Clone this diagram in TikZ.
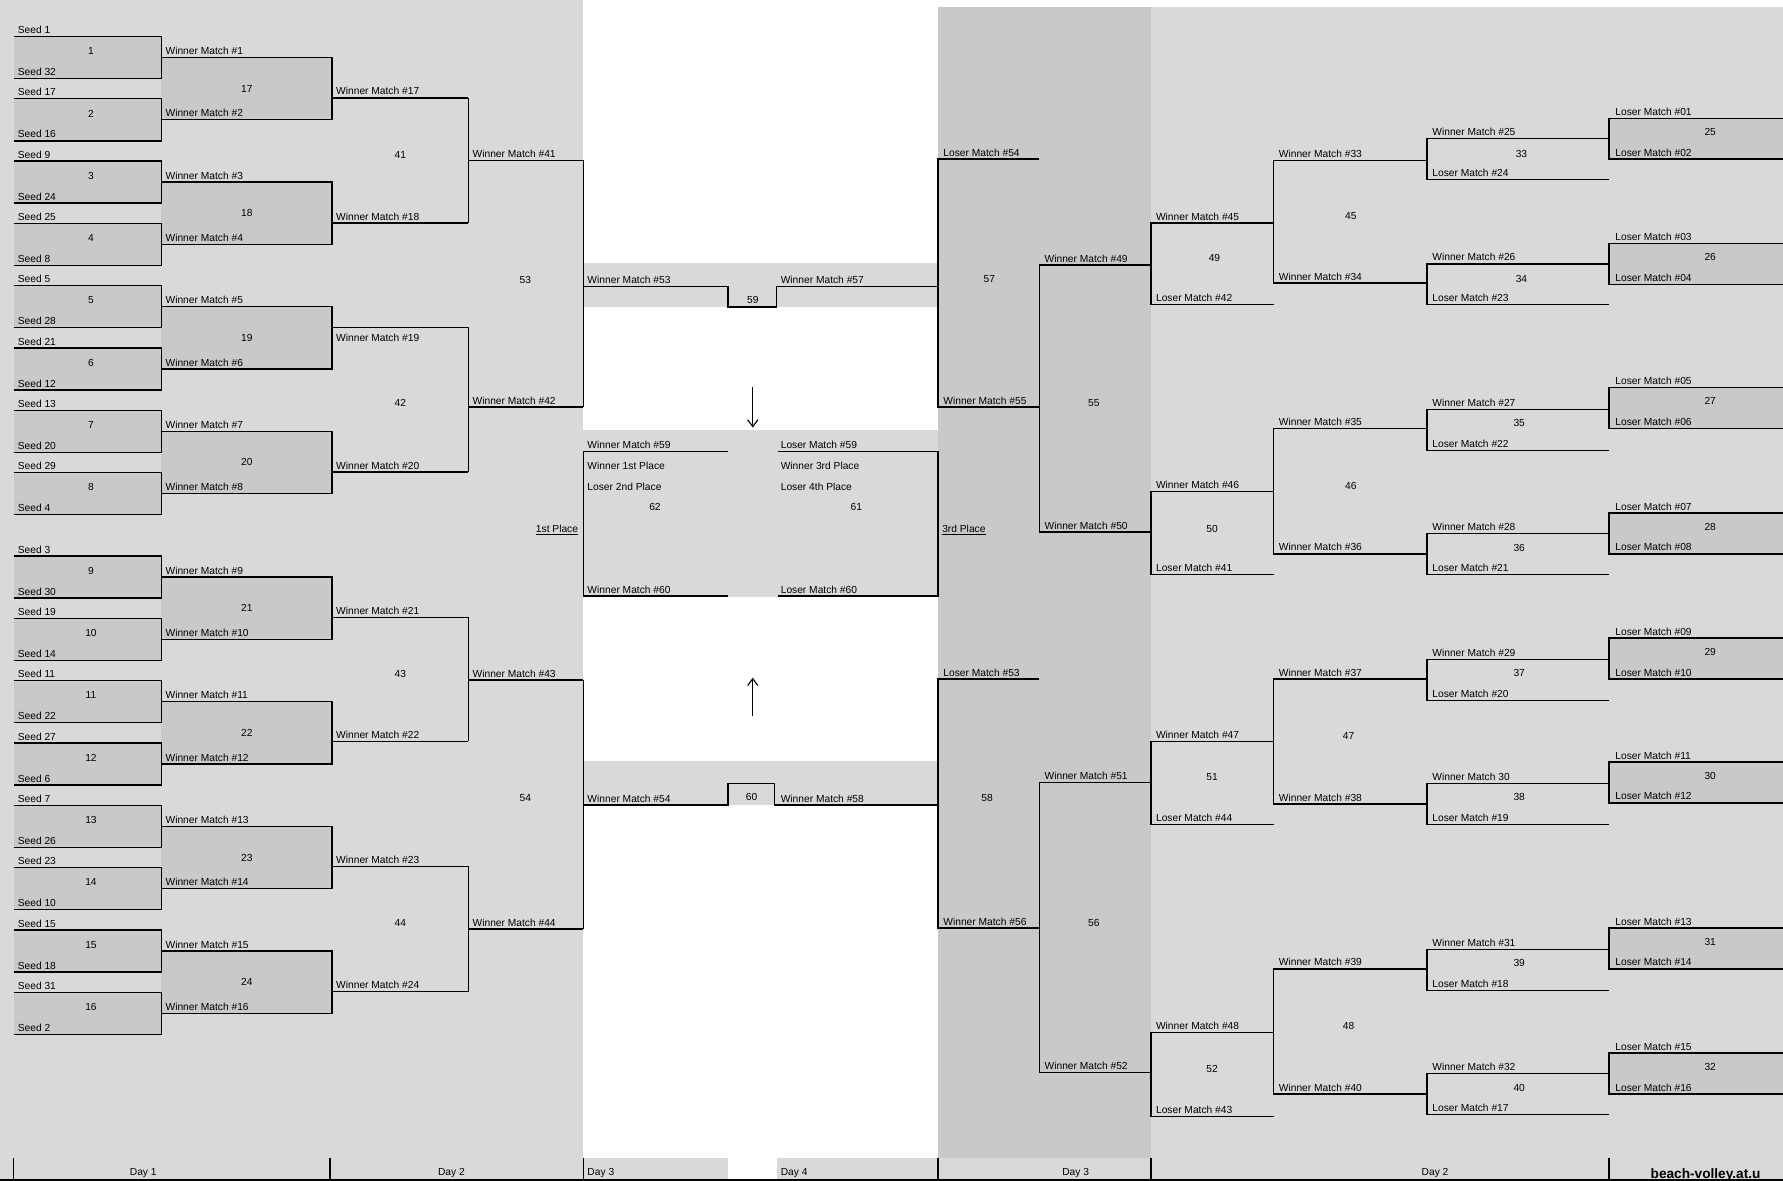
\documentclass[tikz,border=0pt]{standalone}
\usepackage{fontspec}
\setmainfont{Liberation Sans}
\usetikzlibrary{arrows.meta}
\tikzset{
  lbl/.style={font=\fontsize{9}{10}\selectfont,anchor=base west,inner sep=0pt},
  num/.style={font=\fontsize{9}{10}\selectfont,inner sep=0pt},
  daylbl/.style={font=\fontsize{9}{10}\selectfont,anchor=base,inner sep=0pt},
  bgfill/.style={fill=gray!30},
  boxfill/.style={fill=gray!42},
}
\begin{document}
\begin{tikzpicture}[x=1pt,y=-1pt,line width=1.3pt]
    \useasboundingbox (0,0) rectangle (1568,1038);
    % shading
    \fill[bgfill] (0,0) rectangle (513,1038);
    \fill[bgfill] (825,6) rectangle (1568,1038);
    \fill[boxfill] (825,6) rectangle (1012,1018);
    \fill[bgfill] (513,231) rectangle (825,270);
    \fill[bgfill] (513,378) rectangle (825,525);
    \fill[bgfill] (513,669) rectangle (825,708);
    \fill[bgfill] (513,1018) rectangle (640,1038);
    \fill[bgfill] (683,1018) rectangle (825,1038);
    \foreach \i in {1,...,16}{
        \pgfmathsetmacro\t{\i<9 ? 32+54.8*(\i-1) : 489+54.8*(\i-9)}
        \fill[boxfill] (12,\t) rectangle (142,\t+37);
    }
    \foreach \ya/\yb in {50.5/105.3,160.1/214.9,269.7/324.5,379.3/434.1,507.5/562.3,617.1/671.9,726.7/781.5,836.3/891.1}
        \fill[boxfill] (142,\ya) rectangle (292,\yb);
    \foreach \y in {104,214,341,451,561,670,816,926}
        \fill[boxfill] (1415,\y) rectangle (1568,\y+36);

    % day 1
    \foreach \i/\sa/\sb in {1/1/32,2/17/16,3/9/24,4/25/8,5/5/28,6/21/12,7/13/20,8/29/4,9/3/30,10/19/14,11/11/22,12/27/6,13/7/26,14/23/10,15/15/18,16/31/2}{
        \pgfmathsetmacro\t{\i<9 ? 32+54.8*(\i-1) : 489+54.8*(\i-9)}
        \draw (12,\t) -- (142,\t) -- (142,\t+37) -- (12,\t+37);
        \node[num] (m\i) at (80,\t+13) {\i};
        \node[lbl] (sa\i) at (15,\t-2.5) {Seed \sa};
        \node[lbl] (sb\i) at (15,\t+34.5) {Seed \sb};
        \node[lbl] (w\i) at (145,\t+16) {Winner Match \#\i};
    }
    % day 2
    \foreach \m/\ya/\yb/\yo/\lo in {17/50.5/105.3/86/-2.5,18/160.1/214.9/196/-2.5,19/269.7/324.5/288/12,20/379.3/434.1/415/-2.5,21/507.5/562.3/543/-2.5,22/617.1/671.9/652/-2.5,23/726.7/781.5/762/-2.5,24/836.3/891.1/872/-2.5}{
        \draw (142,\ya) -- (292,\ya) -- (292,\yb) -- (142,\yb);
        \draw (292,\yo) -- (412,\yo);
        \node[num] (m\m) at (217,{(\ya+\yb)/2}) {\m};
        \node[lbl] (w\m) at (295,\yo+\lo) {Winner Match \#\m};
    }
    \foreach \m/\ya/\yb/\yo/\ny in {41/86/196/141/136,42/288/415/358/354,43/543/652/598/593,44/762/872/817/812}{
        \draw (412,\ya) -- (412,\yb);
        \draw (412,\yo) -- (513,\yo);
        \node[num] (m\m) at (352,\ny) {\m};
        \node[lbl] (w\m) at (415,\yo-2.5) {Winner Match \#\m};
    }
    \foreach \m/\ya/\yb/\ny in {53/141/358/246,54/598/817/702}{
        \draw (513,\ya) -- (513,\yb);
        \node[num] (m\m) at (462,\ny) {\m};
    }
    \node[lbl,anchor=base east] (first) at (509,468) {\underline{1st Place}};

    % days 3 and 4
    \draw (513,252) -- (640,252) -- (640,270) -- (683,270) -- (683,252) -- (825,252);
    \node[lbl] (w53) at (516,249.5) {Winner Match \#53};
    \node[lbl] (w57) at (686,249.5) {Winner Match \#57};
    \node[num] (m59) at (662,264) {59};
    \draw (513,708) -- (640,708) -- (640,689) -- (681,689) -- (681,708) -- (825,708);
    \node[lbl] (w54) at (516,705.5) {Winner Match \#54};
    \node[lbl] (w58) at (686,705.5) {Winner Match \#58};
    \node[num] (m60) at (661,701) {60};
    \coordinate (downa) at (662,340);
    \coordinate (downb) at (662,376);
    \coordinate (upa) at (662,630);
    \coordinate (upb) at (662,596);
    \draw[-{Straight Barb[length=6pt,width=9pt]},line width=1pt] (downa) -- (downb);
    \draw[-{Straight Barb[length=6pt,width=9pt]},line width=1pt] (upa) -- (upb);
    \draw (640,397) -- (513,397) -- (513,524) -- (640,524);
    \draw (684,397) -- (825,397) -- (825,524) -- (684,524);
    \node[lbl] (w59) at (516,394.5) {Winner Match \#59};
    \node[lbl] (l59) at (686,394.5) {Loser Match \#59};
    \node[lbl] (p1) at (516,413) {Winner 1st Place};
    \node[lbl] (p2) at (516,431) {Loser 2nd Place};
    \node[lbl] (p3) at (686,413) {Winner 3rd Place};
    \node[lbl] (p4) at (686,431) {Loser 4th Place};
    \node[num] (m62) at (576,446) {62};
    \node[num] (m61) at (753,446) {61};
    \node[lbl] (w60) at (516,521.5) {Winner Match \#60};
    \node[lbl] (l60) at (686,521.5) {Loser Match \#60};
    \node[lbl] (third) at (828,468) {\underline{3rd Place}};

    % losers side
    \foreach \x/\xe/\ya/\yb/\n/\nx/\ny/\la/\lb in {
        825/914/140/358/57/870/245/Loser Match \#54/Winner Match \#55,
        825/914/597/816/58/868/702/Loser Match \#53/Winner Match \#56,
        914/1012/233/468/55/962/354/Winner Match \#49/Winner Match \#50,
        914/1012/688/943/56/962/812/Winner Match \#51/Winner Match \#52,
        1012/1120/196/268/49/1068/227/Winner Match \#45/Loser Match \#42,
        1012/1120/432/505/50/1066/465/Winner Match \#46/Loser Match \#41,
        1012/1120/652/725/51/1066/683/Winner Match \#47/Loser Match \#44,
        1012/1120/908/982/52/1066/940/Winner Match \#48/Loser Match \#43,
        1120/1255/141/249/45/1188/190/Winner Match \#33/Winner Match \#34,
        1120/1255/377/487/46/1188/427/Winner Match \#35/Winner Match \#36,
        1120/1255/597/707/47/1186/647/Winner Match \#37/Winner Match \#38,
        1120/1255/852/962/48/1186/902/Winner Match \#39/Winner Match \#40,
        1255/1415/122/158/33/1338/135/Winner Match \#25/Loser Match \#24,
        1255/1415/232/268/34/1338/245/Winner Match \#26/Loser Match \#23,
        1255/1415/360/396/35/1336/372/Winner Match \#27/Loser Match \#22,
        1255/1415/469/505/36/1336/482/Winner Match \#28/Loser Match \#21,
        1255/1415/580/616/37/1336/592/Winner Match \#29/Loser Match \#20,
        1255/1415/689/725/38/1336/701/Winner Match 30/Loser Match \#19,
        1255/1415/835/871/39/1336/847/Winner Match \#31/Loser Match \#18,
        1255/1415/944/980/40/1336/957/Winner Match \#32/Loser Match \#17}{
        \draw (\xe,\ya) -- (\x,\ya) -- (\x,\yb) -- (\xe,\yb);
        \node[num] (m\n) at (\nx,\ny) {\n};
        \node[lbl] (t\n) at (\x+4,\ya-2.5) {\la};
        \node[lbl] (b\n) at (\x+4,\yb-2.5) {\lb};
    }
    \foreach \n/\y/\a/\b in {25/104/01/02,26/214/03/04,27/341/05/06,28/451/07/08,29/561/09/10,30/670/11/12,31/816/13/14,32/926/15/16}{
        \draw (1568,\y) -- (1415,\y) -- (1415,\y+36) -- (1568,\y+36);
        \node[num] (m\n) at (1504,\y+12) {\n};
        \node[lbl] (t\n) at (1420,\y-2.5) {Loser Match \#\a};
        \node[lbl] (b\n) at (1420,\y+33.5) {Loser Match \#\b};
    }

    % day strip
    \draw (0,1037.5) -- (1568,1037.5);
    \foreach \x in {12,290,513,825,1012,1415}
        \draw (\x,1018) -- (\x,1038);
    \node[daylbl] (d1) at (126,1034) {Day 1};
    \node[daylbl] (d2) at (397,1034) {Day 2};
    \node[lbl] (d3) at (516,1034) {Day 3};
    \node[lbl] (d4) at (686,1034) {Day 4};
    \node[daylbl] (d3b) at (946,1034) {Day 3};
    \node[daylbl] (d2b) at (1262,1034) {Day 2};
    \node[lbl,font=\bfseries\fontsize{12}{13}\selectfont] (site) at (1451,1036) {beach-volley.at.u};
\end{tikzpicture}
\end{document}
